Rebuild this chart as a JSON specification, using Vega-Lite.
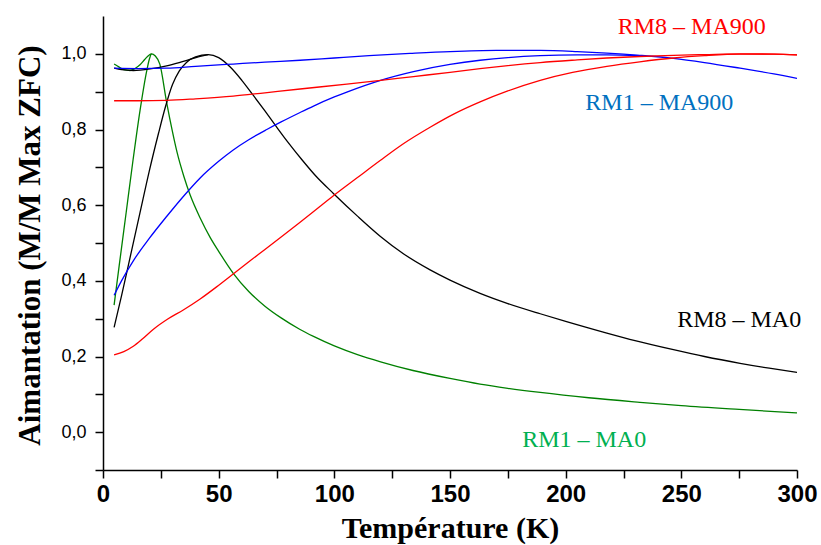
{
  "$schema": "https://vega.github.io/schema/vega-lite/v6.json",
  "autosize": "none",
  "width": 694,
  "height": 454,
  "padding": {"left": 103, "top": 16, "right": 24, "bottom": 75},
  "background": "white",
  "config": {"view": {"stroke": null}},
  "datasets": {
    "curves": [
      {"g": "RM1 – MA0", "s": "RM1-MA0-ZFC", "T": 4.8, "M": 0.336},
      {"g": "RM1 – MA0", "s": "RM1-MA0-ZFC", "T": 7, "M": 0.44},
      {"g": "RM1 – MA0", "s": "RM1-MA0-ZFC", "T": 10, "M": 0.58},
      {"g": "RM1 – MA0", "s": "RM1-MA0-ZFC", "T": 13, "M": 0.72},
      {"g": "RM1 – MA0", "s": "RM1-MA0-ZFC", "T": 16, "M": 0.85},
      {"g": "RM1 – MA0", "s": "RM1-MA0-ZFC", "T": 18.9, "M": 0.955},
      {"g": "RM1 – MA0", "s": "RM1-MA0-ZFC", "T": 20, "M": 0.985},
      {"g": "RM1 – MA0", "s": "RM1-MA0-ZFC", "T": 21, "M": 1.0},
      {"g": "RM1 – MA0", "s": "RM1-MA0-ZFC", "T": 22.5, "M": 0.995},
      {"g": "RM1 – MA0", "s": "RM1-MA0-ZFC", "T": 24.6, "M": 0.972},
      {"g": "RM1 – MA0", "s": "RM1-MA0-ZFC", "T": 27.5, "M": 0.872},
      {"g": "RM1 – MA0", "s": "RM1-MA0-ZFC", "T": 30, "M": 0.795},
      {"g": "RM1 – MA0", "s": "RM1-MA0-ZFC", "T": 32, "M": 0.74},
      {"g": "RM1 – MA0", "s": "RM1-MA0-ZFC", "T": 35, "M": 0.675},
      {"g": "RM1 – MA0", "s": "RM1-MA0-ZFC", "T": 37.6, "M": 0.628},
      {"g": "RM1 – MA0", "s": "RM1-MA0-ZFC", "T": 42, "M": 0.566},
      {"g": "RM1 – MA0", "s": "RM1-MA0-ZFC", "T": 46.3, "M": 0.515},
      {"g": "RM1 – MA0", "s": "RM1-MA0-ZFC", "T": 50, "M": 0.478},
      {"g": "RM1 – MA0", "s": "RM1-MA0-ZFC", "T": 56.3, "M": 0.42},
      {"g": "RM1 – MA0", "s": "RM1-MA0-ZFC", "T": 63, "M": 0.372},
      {"g": "RM1 – MA0", "s": "RM1-MA0-ZFC", "T": 70, "M": 0.333},
      {"g": "RM1 – MA0", "s": "RM1-MA0-ZFC", "T": 77, "M": 0.302},
      {"g": "RM1 – MA0", "s": "RM1-MA0-ZFC", "T": 85, "M": 0.272},
      {"g": "RM1 – MA0", "s": "RM1-MA0-ZFC", "T": 91, "M": 0.253},
      {"g": "RM1 – MA0", "s": "RM1-MA0-ZFC", "T": 100, "M": 0.228},
      {"g": "RM1 – MA0", "s": "RM1-MA0-ZFC", "T": 110, "M": 0.205},
      {"g": "RM1 – MA0", "s": "RM1-MA0-ZFC", "T": 120, "M": 0.186},
      {"g": "RM1 – MA0", "s": "RM1-MA0-ZFC", "T": 134, "M": 0.163},
      {"g": "RM1 – MA0", "s": "RM1-MA0-ZFC", "T": 150, "M": 0.142},
      {"g": "RM1 – MA0", "s": "RM1-MA0-ZFC", "T": 163, "M": 0.127},
      {"g": "RM1 – MA0", "s": "RM1-MA0-ZFC", "T": 175, "M": 0.116},
      {"g": "RM1 – MA0", "s": "RM1-MA0-ZFC", "T": 189, "M": 0.105},
      {"g": "RM1 – MA0", "s": "RM1-MA0-ZFC", "T": 210, "M": 0.091},
      {"g": "RM1 – MA0", "s": "RM1-MA0-ZFC", "T": 232, "M": 0.079},
      {"g": "RM1 – MA0", "s": "RM1-MA0-ZFC", "T": 250, "M": 0.07},
      {"g": "RM1 – MA0", "s": "RM1-MA0-ZFC", "T": 275, "M": 0.06},
      {"g": "RM1 – MA0", "s": "RM1-MA0-ZFC", "T": 300, "M": 0.051},
      {"g": "RM1 – MA0", "s": "RM1-MA0-FC", "T": 4.8, "M": 0.973},
      {"g": "RM1 – MA0", "s": "RM1-MA0-FC", "T": 7, "M": 0.965},
      {"g": "RM1 – MA0", "s": "RM1-MA0-FC", "T": 9, "M": 0.958},
      {"g": "RM1 – MA0", "s": "RM1-MA0-FC", "T": 11.7, "M": 0.956},
      {"g": "RM1 – MA0", "s": "RM1-MA0-FC", "T": 14, "M": 0.962},
      {"g": "RM1 – MA0", "s": "RM1-MA0-FC", "T": 16, "M": 0.971},
      {"g": "RM1 – MA0", "s": "RM1-MA0-FC", "T": 18, "M": 0.985},
      {"g": "RM1 – MA0", "s": "RM1-MA0-FC", "T": 20, "M": 0.997},
      {"g": "RM1 – MA0", "s": "RM1-MA0-FC", "T": 21, "M": 1.0},
      {"g": "RM8 – MA0", "s": "RM8-MA0-ZFC", "T": 4.8, "M": 0.277},
      {"g": "RM8 – MA0", "s": "RM8-MA0-ZFC", "T": 8, "M": 0.36},
      {"g": "RM8 – MA0", "s": "RM8-MA0-ZFC", "T": 12, "M": 0.47},
      {"g": "RM8 – MA0", "s": "RM8-MA0-ZFC", "T": 16, "M": 0.58},
      {"g": "RM8 – MA0", "s": "RM8-MA0-ZFC", "T": 20, "M": 0.69},
      {"g": "RM8 – MA0", "s": "RM8-MA0-ZFC", "T": 24, "M": 0.79},
      {"g": "RM8 – MA0", "s": "RM8-MA0-ZFC", "T": 27, "M": 0.86},
      {"g": "RM8 – MA0", "s": "RM8-MA0-ZFC", "T": 30, "M": 0.918},
      {"g": "RM8 – MA0", "s": "RM8-MA0-ZFC", "T": 33, "M": 0.955},
      {"g": "RM8 – MA0", "s": "RM8-MA0-ZFC", "T": 36.2, "M": 0.978},
      {"g": "RM8 – MA0", "s": "RM8-MA0-ZFC", "T": 40, "M": 0.992},
      {"g": "RM8 – MA0", "s": "RM8-MA0-ZFC", "T": 45.5, "M": 0.998},
      {"g": "RM8 – MA0", "s": "RM8-MA0-ZFC", "T": 50, "M": 0.99},
      {"g": "RM8 – MA0", "s": "RM8-MA0-ZFC", "T": 55, "M": 0.965},
      {"g": "RM8 – MA0", "s": "RM8-MA0-ZFC", "T": 60, "M": 0.93},
      {"g": "RM8 – MA0", "s": "RM8-MA0-ZFC", "T": 65, "M": 0.89},
      {"g": "RM8 – MA0", "s": "RM8-MA0-ZFC", "T": 70, "M": 0.849},
      {"g": "RM8 – MA0", "s": "RM8-MA0-ZFC", "T": 75, "M": 0.807},
      {"g": "RM8 – MA0", "s": "RM8-MA0-ZFC", "T": 80, "M": 0.766},
      {"g": "RM8 – MA0", "s": "RM8-MA0-ZFC", "T": 86, "M": 0.72},
      {"g": "RM8 – MA0", "s": "RM8-MA0-ZFC", "T": 92, "M": 0.677},
      {"g": "RM8 – MA0", "s": "RM8-MA0-ZFC", "T": 99.6, "M": 0.631},
      {"g": "RM8 – MA0", "s": "RM8-MA0-ZFC", "T": 110, "M": 0.571},
      {"g": "RM8 – MA0", "s": "RM8-MA0-ZFC", "T": 119.8, "M": 0.518},
      {"g": "RM8 – MA0", "s": "RM8-MA0-ZFC", "T": 130, "M": 0.471},
      {"g": "RM8 – MA0", "s": "RM8-MA0-ZFC", "T": 141.4, "M": 0.429},
      {"g": "RM8 – MA0", "s": "RM8-MA0-ZFC", "T": 150, "M": 0.402},
      {"g": "RM8 – MA0", "s": "RM8-MA0-ZFC", "T": 163, "M": 0.367},
      {"g": "RM8 – MA0", "s": "RM8-MA0-ZFC", "T": 175, "M": 0.34},
      {"g": "RM8 – MA0", "s": "RM8-MA0-ZFC", "T": 189, "M": 0.313},
      {"g": "RM8 – MA0", "s": "RM8-MA0-ZFC", "T": 200, "M": 0.293},
      {"g": "RM8 – MA0", "s": "RM8-MA0-ZFC", "T": 217.8, "M": 0.262},
      {"g": "RM8 – MA0", "s": "RM8-MA0-ZFC", "T": 230, "M": 0.242},
      {"g": "RM8 – MA0", "s": "RM8-MA0-ZFC", "T": 246.6, "M": 0.218},
      {"g": "RM8 – MA0", "s": "RM8-MA0-ZFC", "T": 260, "M": 0.2},
      {"g": "RM8 – MA0", "s": "RM8-MA0-ZFC", "T": 275.4, "M": 0.182},
      {"g": "RM8 – MA0", "s": "RM8-MA0-ZFC", "T": 288, "M": 0.169},
      {"g": "RM8 – MA0", "s": "RM8-MA0-ZFC", "T": 300, "M": 0.158},
      {"g": "RM8 – MA0", "s": "RM8-MA0-FC", "T": 4.8, "M": 0.962},
      {"g": "RM8 – MA0", "s": "RM8-MA0-FC", "T": 8, "M": 0.958},
      {"g": "RM8 – MA0", "s": "RM8-MA0-FC", "T": 13.1, "M": 0.956},
      {"g": "RM8 – MA0", "s": "RM8-MA0-FC", "T": 20.3, "M": 0.96},
      {"g": "RM8 – MA0", "s": "RM8-MA0-FC", "T": 27.5, "M": 0.968},
      {"g": "RM8 – MA0", "s": "RM8-MA0-FC", "T": 34.7, "M": 0.98},
      {"g": "RM8 – MA0", "s": "RM8-MA0-FC", "T": 42, "M": 0.993},
      {"g": "RM8 – MA0", "s": "RM8-MA0-FC", "T": 45.5, "M": 0.998},
      {"g": "RM1 – MA900", "s": "RM1-MA900-FC", "T": 4.8, "M": 0.962},
      {"g": "RM1 – MA900", "s": "RM1-MA900-FC", "T": 15, "M": 0.961},
      {"g": "RM1 – MA900", "s": "RM1-MA900-FC", "T": 27.5, "M": 0.962},
      {"g": "RM1 – MA900", "s": "RM1-MA900-FC", "T": 40, "M": 0.967},
      {"g": "RM1 – MA900", "s": "RM1-MA900-FC", "T": 56.3, "M": 0.973},
      {"g": "RM1 – MA900", "s": "RM1-MA900-FC", "T": 70, "M": 0.978},
      {"g": "RM1 – MA900", "s": "RM1-MA900-FC", "T": 85.2, "M": 0.983},
      {"g": "RM1 – MA900", "s": "RM1-MA900-FC", "T": 100, "M": 0.989},
      {"g": "RM1 – MA900", "s": "RM1-MA900-FC", "T": 115, "M": 0.995},
      {"g": "RM1 – MA900", "s": "RM1-MA900-FC", "T": 132.7, "M": 1.001},
      {"g": "RM1 – MA900", "s": "RM1-MA900-FC", "T": 150, "M": 1.006},
      {"g": "RM1 – MA900", "s": "RM1-MA900-FC", "T": 170, "M": 1.009},
      {"g": "RM1 – MA900", "s": "RM1-MA900-FC", "T": 189, "M": 1.009},
      {"g": "RM1 – MA900", "s": "RM1-MA900-FC", "T": 205, "M": 1.006},
      {"g": "RM1 – MA900", "s": "RM1-MA900-FC", "T": 217.8, "M": 1.002},
      {"g": "RM1 – MA900", "s": "RM1-MA900-FC", "T": 232, "M": 0.996},
      {"g": "RM1 – MA900", "s": "RM1-MA900-FC", "T": 246.6, "M": 0.988},
      {"g": "RM1 – MA900", "s": "RM1-MA900-FC", "T": 260, "M": 0.977},
      {"g": "RM1 – MA900", "s": "RM1-MA900-FC", "T": 275.4, "M": 0.962},
      {"g": "RM1 – MA900", "s": "RM1-MA900-FC", "T": 290, "M": 0.947},
      {"g": "RM1 – MA900", "s": "RM1-MA900-FC", "T": 300, "M": 0.935},
      {"g": "RM1 – MA900", "s": "RM1-MA900-ZFC", "T": 4.8, "M": 0.362},
      {"g": "RM1 – MA900", "s": "RM1-MA900-ZFC", "T": 8, "M": 0.4},
      {"g": "RM1 – MA900", "s": "RM1-MA900-ZFC", "T": 13.1, "M": 0.453},
      {"g": "RM1 – MA900", "s": "RM1-MA900-ZFC", "T": 20, "M": 0.512},
      {"g": "RM1 – MA900", "s": "RM1-MA900-ZFC", "T": 27.5, "M": 0.57},
      {"g": "RM1 – MA900", "s": "RM1-MA900-ZFC", "T": 35, "M": 0.625},
      {"g": "RM1 – MA900", "s": "RM1-MA900-ZFC", "T": 42, "M": 0.672},
      {"g": "RM1 – MA900", "s": "RM1-MA900-ZFC", "T": 50, "M": 0.716},
      {"g": "RM1 – MA900", "s": "RM1-MA900-ZFC", "T": 56.3, "M": 0.746},
      {"g": "RM1 – MA900", "s": "RM1-MA900-ZFC", "T": 63, "M": 0.773},
      {"g": "RM1 – MA900", "s": "RM1-MA900-ZFC", "T": 70.8, "M": 0.8},
      {"g": "RM1 – MA900", "s": "RM1-MA900-ZFC", "T": 77, "M": 0.82},
      {"g": "RM1 – MA900", "s": "RM1-MA900-ZFC", "T": 85.2, "M": 0.845},
      {"g": "RM1 – MA900", "s": "RM1-MA900-ZFC", "T": 91, "M": 0.862},
      {"g": "RM1 – MA900", "s": "RM1-MA900-ZFC", "T": 100, "M": 0.886},
      {"g": "RM1 – MA900", "s": "RM1-MA900-ZFC", "T": 105.4, "M": 0.899},
      {"g": "RM1 – MA900", "s": "RM1-MA900-ZFC", "T": 120, "M": 0.93},
      {"g": "RM1 – MA900", "s": "RM1-MA900-ZFC", "T": 134.2, "M": 0.953},
      {"g": "RM1 – MA900", "s": "RM1-MA900-ZFC", "T": 150, "M": 0.972},
      {"g": "RM1 – MA900", "s": "RM1-MA900-ZFC", "T": 163, "M": 0.983},
      {"g": "RM1 – MA900", "s": "RM1-MA900-ZFC", "T": 175, "M": 0.99},
      {"g": "RM1 – MA900", "s": "RM1-MA900-ZFC", "T": 189, "M": 0.995},
      {"g": "RM1 – MA900", "s": "RM1-MA900-ZFC", "T": 205, "M": 0.997},
      {"g": "RM1 – MA900", "s": "RM1-MA900-ZFC", "T": 217.8, "M": 0.997},
      {"g": "RM1 – MA900", "s": "RM1-MA900-ZFC", "T": 232, "M": 0.995},
      {"g": "RM8 – MA900", "s": "RM8-MA900-FC", "T": 4.8, "M": 0.876},
      {"g": "RM8 – MA900", "s": "RM8-MA900-FC", "T": 15, "M": 0.876},
      {"g": "RM8 – MA900", "s": "RM8-MA900-FC", "T": 27.5, "M": 0.877},
      {"g": "RM8 – MA900", "s": "RM8-MA900-FC", "T": 40, "M": 0.881},
      {"g": "RM8 – MA900", "s": "RM8-MA900-FC", "T": 56.3, "M": 0.888},
      {"g": "RM8 – MA900", "s": "RM8-MA900-FC", "T": 70, "M": 0.897},
      {"g": "RM8 – MA900", "s": "RM8-MA900-FC", "T": 85.2, "M": 0.907},
      {"g": "RM8 – MA900", "s": "RM8-MA900-FC", "T": 105.4, "M": 0.92},
      {"g": "RM8 – MA900", "s": "RM8-MA900-FC", "T": 120, "M": 0.93},
      {"g": "RM8 – MA900", "s": "RM8-MA900-FC", "T": 134.2, "M": 0.94},
      {"g": "RM8 – MA900", "s": "RM8-MA900-FC", "T": 150, "M": 0.951},
      {"g": "RM8 – MA900", "s": "RM8-MA900-FC", "T": 163, "M": 0.961},
      {"g": "RM8 – MA900", "s": "RM8-MA900-FC", "T": 175, "M": 0.969},
      {"g": "RM8 – MA900", "s": "RM8-MA900-FC", "T": 189, "M": 0.977},
      {"g": "RM8 – MA900", "s": "RM8-MA900-FC", "T": 205, "M": 0.984},
      {"g": "RM8 – MA900", "s": "RM8-MA900-FC", "T": 217.8, "M": 0.989},
      {"g": "RM8 – MA900", "s": "RM8-MA900-FC", "T": 232, "M": 0.993},
      {"g": "RM8 – MA900", "s": "RM8-MA900-FC", "T": 246.6, "M": 0.996},
      {"g": "RM8 – MA900", "s": "RM8-MA900-FC", "T": 260, "M": 0.998},
      {"g": "RM8 – MA900", "s": "RM8-MA900-FC", "T": 275.4, "M": 1.0},
      {"g": "RM8 – MA900", "s": "RM8-MA900-FC", "T": 290, "M": 0.999},
      {"g": "RM8 – MA900", "s": "RM8-MA900-FC", "T": 300, "M": 0.997},
      {"g": "RM8 – MA900", "s": "RM8-MA900-ZFC", "T": 4.8, "M": 0.204},
      {"g": "RM8 – MA900", "s": "RM8-MA900-ZFC", "T": 9, "M": 0.213},
      {"g": "RM8 – MA900", "s": "RM8-MA900-ZFC", "T": 13.1, "M": 0.227},
      {"g": "RM8 – MA900", "s": "RM8-MA900-ZFC", "T": 17, "M": 0.246},
      {"g": "RM8 – MA900", "s": "RM8-MA900-ZFC", "T": 21.8, "M": 0.272},
      {"g": "RM8 – MA900", "s": "RM8-MA900-ZFC", "T": 28, "M": 0.299},
      {"g": "RM8 – MA900", "s": "RM8-MA900-ZFC", "T": 34.7, "M": 0.323},
      {"g": "RM8 – MA900", "s": "RM8-MA900-ZFC", "T": 42, "M": 0.352},
      {"g": "RM8 – MA900", "s": "RM8-MA900-ZFC", "T": 49.1, "M": 0.384},
      {"g": "RM8 – MA900", "s": "RM8-MA900-ZFC", "T": 56, "M": 0.417},
      {"g": "RM8 – MA900", "s": "RM8-MA900-ZFC", "T": 63.6, "M": 0.453},
      {"g": "RM8 – MA900", "s": "RM8-MA900-ZFC", "T": 70, "M": 0.483},
      {"g": "RM8 – MA900", "s": "RM8-MA900-ZFC", "T": 77, "M": 0.516},
      {"g": "RM8 – MA900", "s": "RM8-MA900-ZFC", "T": 85.2, "M": 0.555},
      {"g": "RM8 – MA900", "s": "RM8-MA900-ZFC", "T": 92, "M": 0.588},
      {"g": "RM8 – MA900", "s": "RM8-MA900-ZFC", "T": 99.6, "M": 0.625},
      {"g": "RM8 – MA900", "s": "RM8-MA900-ZFC", "T": 110, "M": 0.673},
      {"g": "RM8 – MA900", "s": "RM8-MA900-ZFC", "T": 119.8, "M": 0.718},
      {"g": "RM8 – MA900", "s": "RM8-MA900-ZFC", "T": 130, "M": 0.763},
      {"g": "RM8 – MA900", "s": "RM8-MA900-ZFC", "T": 141.4, "M": 0.806},
      {"g": "RM8 – MA900", "s": "RM8-MA900-ZFC", "T": 152, "M": 0.842},
      {"g": "RM8 – MA900", "s": "RM8-MA900-ZFC", "T": 163, "M": 0.873},
      {"g": "RM8 – MA900", "s": "RM8-MA900-ZFC", "T": 175, "M": 0.902},
      {"g": "RM8 – MA900", "s": "RM8-MA900-ZFC", "T": 189, "M": 0.93},
      {"g": "RM8 – MA900", "s": "RM8-MA900-ZFC", "T": 203, "M": 0.951},
      {"g": "RM8 – MA900", "s": "RM8-MA900-ZFC", "T": 217.8, "M": 0.967},
      {"g": "RM8 – MA900", "s": "RM8-MA900-ZFC", "T": 232, "M": 0.979},
      {"g": "RM8 – MA900", "s": "RM8-MA900-ZFC", "T": 246.6, "M": 0.989},
      {"g": "RM8 – MA900", "s": "RM8-MA900-ZFC", "T": 260, "M": 0.995},
      {"g": "RM8 – MA900", "s": "RM8-MA900-ZFC", "T": 275.4, "M": 0.999},
      {"g": "RM8 – MA900", "s": "RM8-MA900-ZFC", "T": 290, "M": 0.999},
      {"g": "RM8 – MA900", "s": "RM8-MA900-ZFC", "T": 300, "M": 0.997}
    ],
    "labels": [
      {"label": "RM8 – MA900", "T": 254.5, "M": 1.071},
      {"label": "RM1 – MA900", "T": 240.5, "M": 0.87},
      {"label": "RM8 – MA0", "T": 275, "M": 0.296},
      {"label": "RM1 – MA0", "T": 208, "M": -0.021}
    ]
  },
  "layer": [
    {
      "data": {"name": "curves"},
      "mark": {"type": "line", "strokeWidth": 1.3, "interpolate": "monotone", "clip": true},
      "encoding": {
        "x": {
          "field": "T", "type": "quantitative",
          "scale": {"domain": [0, 300], "nice": false, "zero": false},
          "axis": {
            "title": "Température (K)",
            "values": [0, 25, 50, 75, 100, 125, 150, 175, 200, 225, 250, 275, 300],
            "labelExpr": "datum.value % 50 === 0 ? datum.label : ''",
            "labelFlush": false,
            "labelOverlap": false,
            "grid": false,
            "domainColor": "black", "domainWidth": 1.5,
            "tickColor": "black", "tickWidth": 1.5, "tickSize": 8,
            "labelFont": "Liberation Sans", "labelFontWeight": "bold", "labelFontSize": 24, "labelColor": "black",
            "labelPadding": 4,
            "titleFont": "Liberation Serif", "titleFontWeight": "bold", "titleFontSize": 30, "titleColor": "black",
            "titleBaseline": "alphabetic", "titleY": 67, "titleX": 347
          }
        },
        "y": {
          "field": "M", "type": "quantitative",
          "scale": {"domain": [-0.1, 1.1], "nice": false, "zero": false},
          "axis": {
            "title": "Aimantation (M/M Max ZFC)",
            "values": [-0.1, 0, 0.1, 0.2, 0.3, 0.4, 0.5, 0.6, 0.7, 0.8, 0.9, 1.0],
            "labelExpr": "(round(datum.value*10) % 2 === 0 && datum.value > -0.05) ? replace(format(datum.value, '.1f'), '.', ',') : ''",
            "labelOverlap": false,
            "labelFlush": false,
            "grid": false,
            "domainColor": "black", "domainWidth": 1.5,
            "tickColor": "black", "tickWidth": 1.5, "tickSize": 8,
            "labelFont": "Liberation Sans", "labelFontSize": 18, "labelColor": "black",
            "labelPadding": 9,
            "titleFont": "Liberation Serif", "titleFontWeight": "bold", "titleFontSize": 31, "titleColor": "black",
            "titleBaseline": "alphabetic", "titleX": -64, "titleY": 229
          }
        },
        "color": {
          "field": "g", "type": "nominal",
          "scale": {"domain": ["RM1 – MA0", "RM8 – MA0", "RM1 – MA900", "RM8 – MA900"], "range": ["#008000", "#000000", "#0000FF", "#FF0000"]},
          "legend": null
        },
        "detail": {"field": "s"}
      }
    },
    {
      "data": {"name": "labels"},
      "mark": {"type": "text", "font": "Liberation Serif", "fontSize": 24, "align": "center", "baseline": "middle"},
      "encoding": {
        "x": {"field": "T", "type": "quantitative"},
        "y": {"field": "M", "type": "quantitative"},
        "text": {"field": "label"},
        "color": {
          "field": "label", "type": "nominal",
          "scale": {"domain": ["RM8 – MA900", "RM1 – MA900", "RM8 – MA0", "RM1 – MA0"], "range": ["#FF0000", "#0070C0", "#000000", "#00B050"]},
          "legend": null
        }
      }
    }
  ],
  "resolve": {"scale": {"color": "independent"}}
}
